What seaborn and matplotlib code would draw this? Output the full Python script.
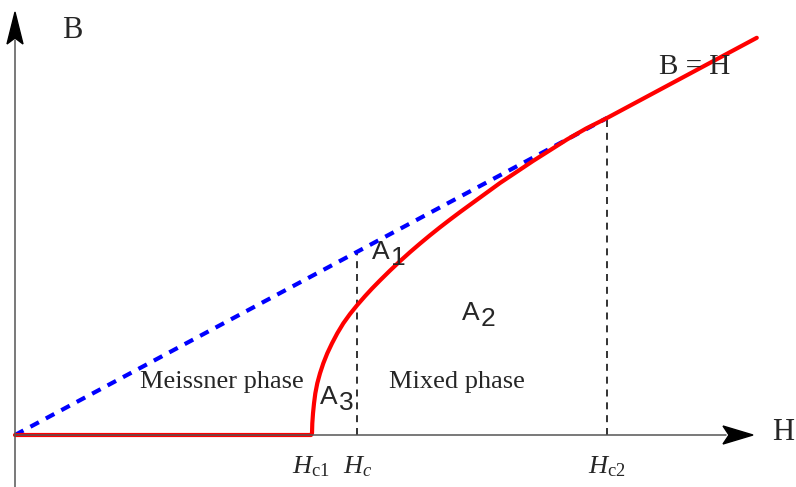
import numpy as np
import pandas as pd
import matplotlib
matplotlib.use("Agg")
import matplotlib.pyplot as plt
import seaborn as sns
from matplotlib.patches import Polygon

# Values (H and B in units of Hc2)
red_H = [0.0, 0.5, 0.5017, 0.5022, 0.5034, 0.5051, 0.5073, 0.5106, 0.5152,
         0.5208, 0.5275, 0.5355, 0.5444, 0.5546, 0.5659, 0.5782, 0.5912,
         0.6030, 0.6166, 0.6334, 0.6503, 0.6672, 0.6841, 0.7010, 0.7179,
         0.7348, 0.7517, 0.7686, 0.8193, 0.875, 0.9324, 0.9645, 1.0, 1.253]
red_B = [0.0, 0.0, 0.0054, 0.0369, 0.0685, 0.1, 0.1315, 0.1631, 0.1946,
         0.2262, 0.2577, 0.2893, 0.3208, 0.3524, 0.3817, 0.4101, 0.4379,
         0.4618, 0.4877, 0.5186, 0.5483, 0.5767, 0.6038, 0.6300, 0.6552,
         0.6795, 0.7032, 0.7262, 0.7950, 0.8644, 0.9322, 0.9666, 1.0, 1.253]
blue_H = [0.0, 1.0]
blue_B = [0.0, 1.0]

crit_H = [0.5, 0.578, 1.0]
crit_labels = [r"$H_{\rm c1}$", r"$H_c$", r"$H_{\rm c2}$"]
dash_H = [0.578, 1.0]
dash_top = [0.578, 1.0]

sns.set_theme(style="white")
plt.rcParams["font.family"] = ["Liberation Serif", "DejaVu Serif"]
plt.rcParams["mathtext.fontset"] = "custom"
plt.rcParams["mathtext.rm"] = "Liberation Serif"
plt.rcParams["mathtext.it"] = "Liberation Serif:italic"

W, Hpx = 796, 487
ox, oy = 15, 435      # origin in pixels
sx, sy = 592, 317     # pixels per unit

def px(x, y):
    # pixel position (from top-left) -> data coords
    return (x - ox) / sx, (oy - y) / sy

fig = plt.figure(figsize=(W / 100, Hpx / 100), dpi=100)
ax = fig.add_axes([0, 0, 1, 1])
x0, y1 = px(0, 0)
x1, y0 = px(W, Hpx)
ax.set_xlim(x0, x1)
ax.set_ylim(y0, y1)
ax.axis("off")

# dashed verticals
for h, top in zip(dash_H, dash_top):
    ax.plot([h, h], [0, top], color="#333333", lw=1.4,
            linestyle=(0, (3.6, 3.0)), zorder=2)

# B = H dashed reference
blue = pd.DataFrame({"H": blue_H, "B": blue_B})
sns.lineplot(data=blue, x="H", y="B", ax=ax, color="blue", lw=3.0,
             linestyle=(0, (2.3, 1.9)), sort=False, estimator=None, zorder=2)

# magnetisation curve
red = pd.DataFrame({"H": red_H, "B": red_B})
sns.lineplot(data=red, x="H", y="B", ax=ax, color="red", lw=3.0,
             sort=False, estimator=None, zorder=3)
ax.lines[-1].set_solid_joinstyle("round")

# axes with arrows
ax.plot([0, px(726, 0)[0]], [0, 0], color="#555555", lw=1.1, zorder=4)
ax.plot([0, 0], [y0, px(0, 40)[1]], color="#555555", lw=1.1, zorder=4)
ax.add_patch(Polygon([px(753, 435), px(723, 426), px(729, 435), px(723, 444)],
                     closed=True, color="black", zorder=5))
ax.add_patch(Polygon([px(15, 12), px(7, 44), px(15, 38), px(23, 44)],
                     closed=True, color="black", zorder=5))

# tick labels
for h, lab in zip(crit_H, crit_labels):
    ax.text(h, px(0, 467)[1], lab, ha="center", va="center", fontsize=19)

ax.text(*px(72, 31), "B", ha="center", va="center", fontsize=22)
ax.text(*px(783, 432), "H", ha="center", va="center", fontsize=22)
ax.text(*px(695, 67), "B = H", ha="center", va="center", fontsize=21)
ax.text(*px(222, 382), "Meissner phase", ha="center", va="center", fontsize=19)
ax.text(*px(457, 382), "Mixed phase", ha="center", va="center", fontsize=19)

# area labels: A with a lowered digit
area_pos = [(390, 259), (480, 320), (338, 404)]
for i, (xa, ya) in enumerate(area_pos):
    ax.text(*px(xa, ya), "A", ha="right", va="baseline", fontsize=19,
            family="Liberation Sans")
    ax.text(*px(xa + 1, ya + 6), str(i + 1), ha="left", va="baseline",
            fontsize=19, family="Liberation Sans")

plt.savefig("out.png", dpi=100)
